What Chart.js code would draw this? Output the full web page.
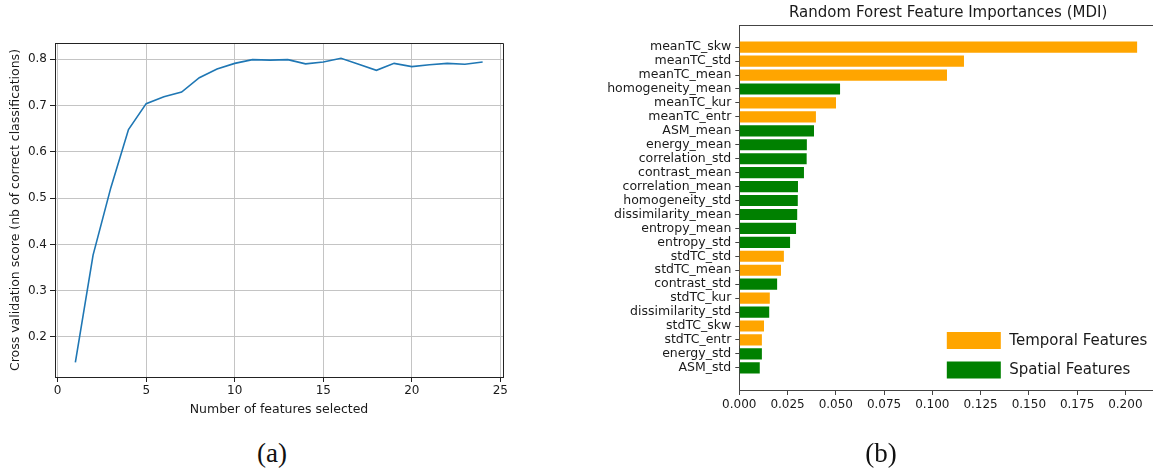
<!DOCTYPE html>
<html>
<head>
<meta charset="utf-8">
<script src="https://cdn.jsdelivr.net/npm/chart.js@4/dist/chart.umd.min.js"></script>
<style>
  html, body { margin: 0; padding: 0; background: #fff; width: 1153px; height: 473px; overflow: hidden; position: relative; }
  canvas { position: absolute; }
  #cv { left: 0; top: 0; }
  #fi { left: 600px; top: 0; }
  .cap { position: absolute; font-family: "Liberation Serif", "DejaVu Serif", serif; font-size: 27px; color: #111; transform: translate(-50%, -50%); }
</style>
</head>
<body>
<canvas id="cv" width="520" height="430"></canvas>
<canvas id="fi" width="560" height="473"></canvas>
<div class="cap" style="left:272px; top:453px;">(a)</div>
<div class="cap" style="left:881px; top:453px;">(b)</div>
<script>
// (a) cross validation score vs number of features
var nbFeatures = [1,2,3,4,5,6,7,8,9,10,11,12,13,14,15,16,17,18,19,20,21,22,23,24];
var cvScores = [0.145,0.377,0.522,0.648,0.704,0.719,0.729,0.760,0.779,0.791,0.799,0.798,0.799,0.790,0.794,0.802,0.789,0.776,0.791,0.784,0.788,0.791,0.789,0.794];
var cvXTicks = [0,5,10,15,20,25];
var cvYTicks = [0.2,0.3,0.4,0.5,0.6,0.7,0.8];

// (b) random forest feature importances
var fiTitle = "Random Forest Feature Importances (MDI)";
var featureNames = ["meanTC_skw","meanTC_std","meanTC_mean","homogeneity_mean","meanTC_kur","meanTC_entr","ASM_mean","energy_mean","correlation_std","contrast_mean","correlation_mean","homogeneity_std","dissimilarity_mean","entropy_mean","entropy_std","stdTC_std","stdTC_mean","contrast_std","stdTC_kur","dissimilarity_std","stdTC_skw","stdTC_entr","energy_std","ASM_std"];
var importances = [0.2061,0.1164,0.1076,0.0522,0.0501,0.0397,0.0387,0.0350,0.0349,0.0335,0.0304,0.0303,0.0300,0.0294,0.0263,0.0231,0.0216,0.0196,0.0158,0.0155,0.0128,0.0117,0.0117,0.0106];
var featureGroup = ["T","T","T","S","T","T","S","S","S","S","S","S","S","S","S","T","T","S","T","S","T","T","S","S"];
var groupNames = {T: "Temporal Features", S: "Spatial Features"};
var groupColors = {T: "#ffa500", S: "#008000"};
var fiXTicks = [0,0.025,0.05,0.075,0.1,0.125,0.15,0.175,0.2];

var FONT = "'DejaVu Sans', Verdana, sans-serif";
Chart.defaults.font.family = FONT;
Chart.defaults.color = "#1a1a1a";
Chart.defaults.animation = false;

function setTicks(arr) {
  return function(s) { s.ticks = arr.map(function(v){ return {value: v}; }); };
}

// box around the plot area (matplotlib spines) + optional title
var boxPlugin = {
  id: "box",
  afterDraw: function(chart, args, opts) {
    var a = chart.chartArea, ctx = chart.ctx;
    ctx.save();
    ctx.strokeStyle = opts.color || "#222";
    ctx.lineWidth = 1;
    ctx.beginPath();
    if (opts.full) {
      ctx.rect(Math.round(a.left) + 0.5, Math.round(a.top) + 0.5, Math.round(a.right - a.left), Math.round(a.bottom - a.top));
    } else {
      ctx.moveTo(a.left, Math.round(a.top) + 0.5);
      ctx.lineTo(a.right, Math.round(a.top) + 0.5);
    }
    ctx.stroke();
    if (opts.title) {
      ctx.font = "15px " + FONT;
      ctx.fillStyle = "#1a1a1a";
      ctx.textAlign = "center";
      ctx.textBaseline = "middle";
      ctx.fillText(opts.title, (a.left + a.right) / 2, a.top - 12);
    }
    ctx.restore();
  }
};

new Chart(document.getElementById("cv"), {
  type: "line",
  data: {
    datasets: [{
      data: nbFeatures.map(function(x, i){ return {x: x, y: cvScores[i]}; }),
      borderColor: "#1f77b4",
      borderWidth: 1.6,
      pointRadius: 0,
      tension: 0,
      fill: false
    }]
  },
  options: {
    responsive: false,
    layout: { padding: { top: 43, right: 17, left: 0, bottom: 0 } },
    plugins: { legend: { display: false }, tooltip: { enabled: false }, box: { full: true, color: "#222" } },
    scales: {
      x: {
        type: "linear",
        min: -0.15, max: 25.15,
        afterBuildTicks: setTicks(cvXTicks),
        afterFit: function(s){ s.height = 53; },
        grid: { color: "#c4c4c4", tickColor: "#222", tickLength: 5, lineWidth: 1 },
        border: { color: "#222" },
        ticks: { font: { size: 12 }, padding: 2, maxRotation: 0, callback: function(v){ return String(v); } },
        title: { display: true, text: "Number of features selected", font: { size: 12.5 }, padding: { top: 0, bottom: 13 } }
      },
      y: {
        type: "linear",
        min: 0.1136, max: 0.835,
        afterBuildTicks: setTicks(cvYTicks),
        afterFit: function(s){ s.width = 55; },
        grid: { color: "#c4c4c4", tickColor: "#222", tickLength: 5, lineWidth: 1 },
        border: { color: "#222" },
        ticks: { font: { size: 12 }, padding: 3, callback: function(v){ return v.toFixed(1); } },
        title: { display: true, text: "Cross validation score (nb of correct classifications)", font: { size: 12.5 }, padding: { top: 8, bottom: 0 } }
      }
    }
  },
  plugins: [boxPlugin]
});

// legend drawn inside the plot area, lower right
var legendPlugin = {
  id: "inlegend",
  afterDraw: function(chart) {
    var a = chart.chartArea, ctx = chart.ctx;
    ctx.save();
    ctx.font = "15px " + FONT;
    ctx.textBaseline = "middle";
    chart.data.datasets.forEach(function(ds, k) {
      var top = a.bottom - 58 + k * 29.5;
      ctx.fillStyle = ds.backgroundColor;
      ctx.fillRect(a.left + 207.5, top, 54, 17);
      ctx.fillStyle = "#1a1a1a";
      ctx.fillText(ds.label, a.left + 270, top + 9);
    });
    ctx.restore();
  }
};

function groupData(g) {
  var out = [];
  for (var i = 0; i < importances.length; i++) {
    if (featureGroup[i] === g) out.push({x: importances[i], y: i});
  }
  return out;
}

new Chart(document.getElementById("fi"), {
  type: "bar",
  data: {
    datasets: ["T","S"].map(function(g){
      return {
        label: groupNames[g],
        data: groupData(g),
        backgroundColor: groupColors[g],
        borderWidth: 0,
        grouped: false,
        categoryPercentage: 0.8,
        barPercentage: 1
      };
    })
  },
  options: {
    responsive: false,
    indexAxis: "y",
    layout: { padding: { top: 25, right: 3, left: 0, bottom: 0 } },
    plugins: {
      legend: { display: false },
      tooltip: { enabled: false },
      box: { full: false, color: "#444", title: fiTitle }
    },
    scales: {
      x: {
        type: "linear",
        min: 0, max: 0.2164,
        afterBuildTicks: setTicks(fiXTicks),
        afterFit: function(s){ s.height = 83; },
        grid: { drawOnChartArea: false, tickColor: "#444", tickLength: 5 },
        border: { color: "#444" },
        ticks: { font: { size: 12 }, padding: 3, maxRotation: 0, autoSkip: false, callback: function(v){ return v.toFixed(3); } }
      },
      y: {
        type: "linear",
        reverse: true,
        offset: false,
        min: -1.59, max: 24.59,
        afterBuildTicks: setTicks(featureNames.map(function(n, i){ return i; })),
        afterFit: function(s){ s.width = 139.3; },
        grid: { offset: false, drawOnChartArea: false, tickColor: "#444", tickLength: 4 },
        border: { color: "#444" },
        ticks: { font: { size: 12.5 }, padding: 4, autoSkip: false, callback: function(v){ return featureNames[v]; } }
      }
    }
  },
  plugins: [boxPlugin, legendPlugin]
});
</script>
</body>
</html>
